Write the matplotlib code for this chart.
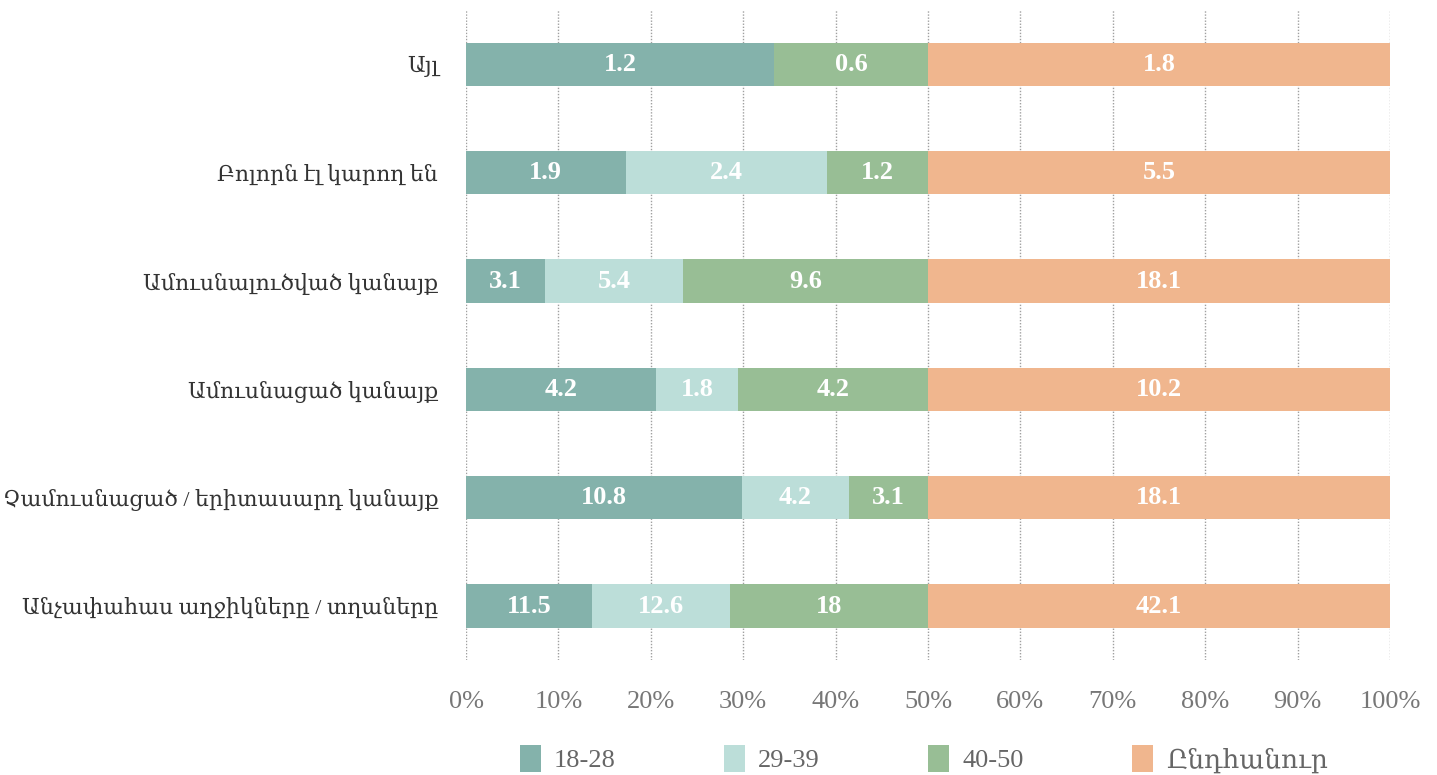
import matplotlib.pyplot as plt
import numpy as np
from matplotlib.ticker import PercentFormatter

SERIF = ["Liberation Serif", "DejaVu Serif"]
plt.rcParams["font.family"] = SERIF

categories = [
    "Անչափահաս աղջիկները / տղաները",
    "Չամուսնացած / երիտասարդ կանայք",
    "Ամուսնացած կանայք",
    "Ամուսնալուծված կանայք",
    "Բոլորն էլ կարող են",
    "Այլ",
]
series_names = ["18-28", "29-39", "40-50", "Ընդհանուր"]
age_18_28 = [11.5, 10.8, 4.2, 3.1, 1.9, 1.2]
age_29_39 = [12.6, 4.2, 1.8, 5.4, 2.4, 0.0]
age_40_50 = [18, 3.1, 4.2, 9.6, 1.2, 0.6]
total = [42.1, 18.1, 10.2, 18.1, 5.5, 1.8]

colors = ["#84b2ab", "#bcded9", "#98be95", "#f0b68e"]

data = np.array([age_18_28, age_29_39, age_40_50, total], dtype=float)
shares = data / data.sum(axis=0) * 100

fig = plt.figure(figsize=(14.37, 7.75), dpi=100)
ax = fig.add_axes([0.3243, 0.148, 0.643, 0.839])

y = np.arange(len(categories))
left = np.zeros(len(categories))
for i, name in enumerate(series_names):
    bars = ax.barh(y, shares[i], left=left, height=0.4, color=colors[i],
                   label=name, zorder=3)
    for j, b in enumerate(bars):
        v = data[i, j]
        if v > 0:
            txt = f"{v:g}"
            ax.text(left[j] + shares[i, j] / 2, y[j], txt, ha="center",
                    va="center", color="white", fontsize=19,
                    fontweight="bold", family=SERIF, zorder=4)
    left += shares[i]

ax.set_xlim(0, 100)
ax.set_ylim(-0.5, len(categories) - 0.5)
ax.set_xticks(np.arange(0, 101, 10))
ax.xaxis.set_major_formatter(PercentFormatter(decimals=0))
ax.set_yticks(y)
ax.set_yticklabels(categories, fontsize=15.8, color="#333333")
ax.tick_params(axis="x", length=0, pad=22, labelsize=19, labelcolor="#777777")
ax.tick_params(axis="y", length=0, pad=20)
ax.grid(axis="x", linestyle=(0, (1, 1.2)), color="#a0a0a0", linewidth=1, zorder=0)
for s in ax.spines.values():
    s.set_visible(False)

handles, labels = ax.get_legend_handles_labels()
fig.legend(handles, labels, loc="center", bbox_to_anchor=(0.643, 0.021),
           ncol=4, frameon=False, fontsize=19, handlelength=0.8,
           handleheight=1.2, columnspacing=4.1, handletextpad=0.5,
           labelcolor="#666666")

fig.savefig("out.png", dpi=100)
